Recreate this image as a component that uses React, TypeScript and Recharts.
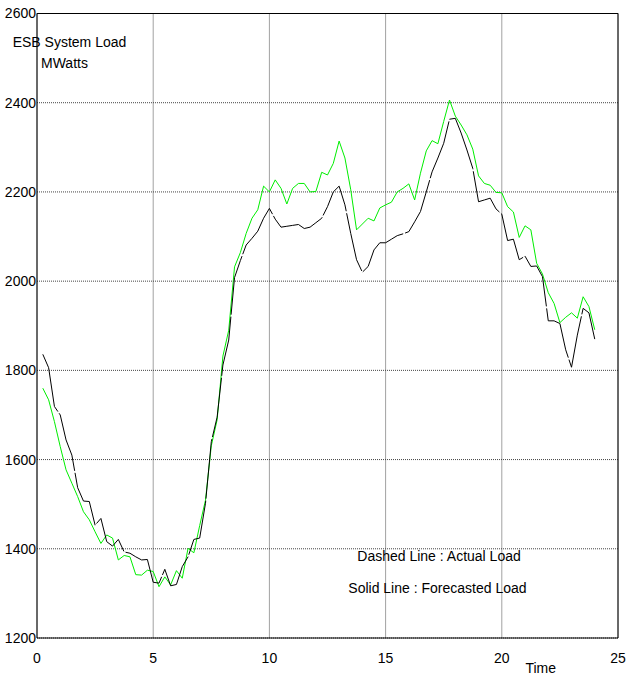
import { LineChart, Line, XAxis, YAxis, CartesianGrid, ReferenceLine } from 'recharts';

const hours = [
  0.25, 0.5, 0.75, 1, 1.25, 1.5, 1.75, 2, 2.25, 2.5, 2.75, 3, 3.25, 3.5, 3.75, 4,
  4.25, 4.5, 4.75, 5, 5.25, 5.5, 5.75, 6, 6.25, 6.5, 6.75, 7, 7.25, 7.5, 7.75, 8,
  8.25, 8.5, 8.75, 9, 9.25, 9.5, 9.75, 10, 10.25, 10.5, 10.75, 11, 11.25, 11.5, 11.75, 12,
  12.25, 12.5, 12.75, 13, 13.25, 13.5, 13.75, 14, 14.25, 14.5, 14.75, 15, 15.25, 15.5, 15.75, 16,
  16.25, 16.5, 16.75, 17, 17.25, 17.5, 17.75, 18, 18.25, 18.5, 18.75, 19, 19.25, 19.5, 19.75, 20,
  20.25, 20.5, 20.75, 21, 21.25, 21.5, 21.75, 22, 22.25, 22.5, 22.75, 23, 23.25, 23.5, 23.75, 24,
];

// black, "dashed" in the original plot
const actualLoad = [
  1836, 1806, 1719, 1700, 1644, 1610, 1537, 1507, 1506, 1453, 1468, 1416, 1406, 1421, 1393, 1390,
  1382, 1375, 1376, 1325, 1323, 1354, 1317, 1320, 1360, 1382, 1421, 1424, 1502, 1640, 1695, 1812,
  1868, 2008, 2046, 2081, 2096, 2112, 2141, 2163, 2139, 2121, 2123, 2125, 2127, 2118, 2121, 2131,
  2141, 2167, 2200, 2213, 2171, 2107, 2048, 2020, 2033, 2070, 2086, 2086, 2094, 2102, 2106, 2111,
  2133, 2156, 2200, 2245, 2276, 2309, 2363, 2365, 2332, 2294, 2253, 2178, 2182, 2186, 2162, 2150,
  2091, 2094, 2048, 2056, 2033, 2034, 2010, 1911, 1911, 1905, 1846, 1807, 1879, 1939, 1929, 1870,
];

// green
const forecastLoad = [
  1760, 1734, 1685, 1629, 1577, 1547, 1517, 1483, 1465, 1438, 1412, 1431, 1424, 1375, 1385, 1382,
  1342, 1341, 1352, 1349, 1315, 1337, 1319, 1351, 1334, 1401, 1391, 1452, 1509, 1631, 1689, 1832,
  1890, 2032, 2064, 2107, 2141, 2160, 2213, 2200, 2227, 2208, 2173, 2208, 2219, 2219, 2200, 2201,
  2244, 2238, 2264, 2314, 2276, 2205, 2115, 2128, 2141, 2135, 2164, 2171, 2177, 2200, 2208, 2218,
  2182, 2242, 2292, 2315, 2308, 2358, 2406, 2370, 2350, 2328, 2296, 2236, 2219, 2215, 2199, 2198,
  2167, 2155, 2098, 2124, 2115, 2040, 2016, 1974, 1950, 1907, 1919, 1929, 1917, 1965, 1943, 1891,
];

const xTicks = [0, 5, 10, 15, 20, 25];
const yTicks = [1200, 1400, 1600, 1800, 2000, 2200, 2400, 2600];

const FONT = '"Liberation Sans", Arial, sans-serif';

export default function App() {
  const data = hours.map((t, i) => ({ t, actual: actualLoad[i], forecast: forecastLoad[i] }));

  // pinned to the page corner so the y labels aren't clipped by the body margin
  return (
    <div style={{ position: 'absolute', left: 0, top: 0, width: 630, height: 675, fontFamily: FONT }}>
      <LineChart width={630} height={675} data={data} margin={{ top: 13.5, right: 12, left: 0, bottom: 0 }}>
        <CartesianGrid stroke="#444" strokeDasharray="1 1" />
        <XAxis
          dataKey="t"
          type="number"
          domain={[0, 25]}
          ticks={xTicks}
          interval={0}
          height={37}
          axisLine={{ stroke: '#000' }}
          tickLine={false}
          tickSize={0}
          tickMargin={15}
          tick={{ fontSize: 14, fill: '#000', fontFamily: FONT }}
        />
        <YAxis
          type="number"
          domain={[1200, 2600]}
          ticks={yTicks}
          interval={0}
          width={37}
          axisLine={{ stroke: '#000' }}
          tickLine={false}
          tickSize={0}
          tickMargin={1}
          tick={{ fontSize: 14, fill: '#000', fontFamily: FONT }}
        />
        <ReferenceLine y={2600} stroke="#000" />
        <ReferenceLine x={25} stroke="#000" />
        <Line
          type="linear"
          dataKey="forecast"
          stroke="#00ee00"
          strokeWidth={1}
          dot={false}
          isAnimationActive={false}
        />
        <Line
          type="linear"
          dataKey="actual"
          stroke="#000"
          strokeWidth={1}
          strokeDasharray="60 2"
          dot={false}
          isAnimationActive={false}
        />
        <text x={12.7} y={46.7} fontSize={14} fontFamily={FONT} fill="#000">ESB System Load</text>
        <text x={41} y={68.3} fontSize={14} fontFamily={FONT} fill="#000">MWatts</text>
        <text x={357.3} y={560.7} fontSize={14} fontFamily={FONT} fill="#000">Dashed Line : Actual Load</text>
        <text x={348.3} y={593.3} fontSize={14} fontFamily={FONT} fill="#000">Solid Line : Forecasted Load</text>
        <text x={540.7} y={673} fontSize={14} fontFamily={FONT} fill="#000" textAnchor="middle">Time</text>
      </LineChart>
    </div>
  );
}
